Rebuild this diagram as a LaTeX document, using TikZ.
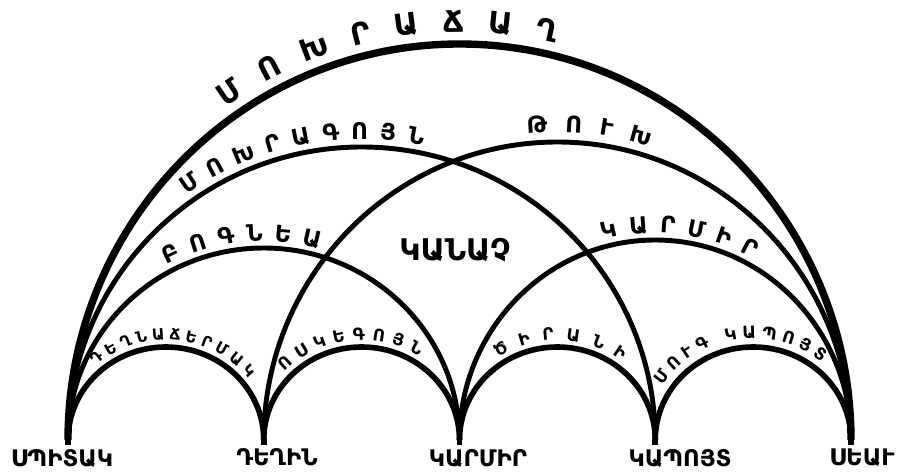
\documentclass[tikz,border=0pt]{standalone}
\usepackage{fontspec}
\setmainfont{DejaVu Sans}
\usetikzlibrary{calc,decorations.text}

\newcommand\bigfnt{\bfseries\fontsize{17}{19}\selectfont}
\newcommand\midfnt{\bfseries\fontsize{13}{15}\selectfont}
\newcommand\smallfnt{\bfseries\fontsize{9.5}{11}\selectfont}
\newcommand\tinyfnt{\bfseries\fontsize{8.8}{10}\selectfont}

\begin{document}
\begin{tikzpicture}[x=0.2mm, y=0.2mm,
    arco/.style={line width=2.8pt},
    nome/.style={font=\midfnt, inner sep=0pt},
    etichetta/.style 2 args={decorate, decoration={text along path, text align={fit to path}, text={|#1|#2}}}]
    \useasboundingbox (0,-31) rectangle (906,440);

    % Colori di base
    \coordinate (spitak) at (68,0);
    \coordinate (deghin) at (263.75,0);
    \coordinate (karmir) at (459.5,0);
    \coordinate (kapuyt) at (655.25,0);
    \coordinate (seav) at (851,0);

    \node[nome] (spitak-nome) at (62,-18) {ՍՊԻՏԱԿ};
    \node[nome] (deghin-nome) at (277,-17) {ԴԵՂԻՆ};
    \node[nome] (karmir-nome) at (478,-18) {ԿԱՐՄԻՐ};
    \node[nome] (kapuyt-nome) at (680,-18) {ԿԱՊՈՅՏ};
    \node[nome] (seav-nome) at (862,-18) {ՍԵԱՒ};

    % Gambi
    \foreach \p in {spitak,deghin,karmir,kapuyt,seav}
        \draw[line width=3.4pt] (\p) -- ++(0,-5);

    % Archi piccoli
    \draw[arco, line width=3.2pt] (spitak) arc[start angle=180, end angle=0, x radius=97.875, y radius=93];
    \draw[arco, line width=3.2pt] (deghin) arc[start angle=180, end angle=0, x radius=97.875, y radius=93];
    \draw[arco, line width=3.2pt] (karmir) arc[start angle=180, end angle=0, x radius=97.875, y radius=93];
    \draw[arco, line width=3.2pt] (kapuyt) arc[start angle=180, end angle=0, x radius=97.875, y radius=93];

    % Archi medi
    \draw[arco] (spitak) arc[start angle=180, end angle=0, x radius=195.75, y radius=192];
    \draw[arco] (karmir) arc[start angle=180, end angle=0, x radius=195.75, y radius=200];

    % Archi grandi
    \draw[arco] (spitak) arc[start angle=180, end angle=0, x radius=293.625, y radius=293];
    \draw[arco] (deghin) arc[start angle=180, end angle=0, x radius=293.625, y radius=298];
    \draw[arco, line width=4.2pt] (spitak) arc[start angle=180, end angle=0, x radius=391.5, y radius=396];

    % Nomi sugli archi
    \path[etichetta={\bigfnt}{ՄՈԽՐԱՃԱՂ}] (karmir) ++(125.5:403.5 and 408)
        arc[start angle=125.5, end angle=76.3, x radius=403.5, y radius=408];
    \path[etichetta={\midfnt}{ՄՈԽՐԱԳՈՅՆ}] ($(deghin)!.5!(karmir)$) ++(125.4:301.6 and 301)
        arc[start angle=125.4, end angle=78.3, x radius=301.6, y radius=301];
    \path[etichetta={\midfnt}{ԹՈՒԽ}] ($(karmir)!.5!(kapuyt)$) ++(95.7:303.6 and 308)
        arc[start angle=95.7, end angle=72.3, x radius=303.6, y radius=308];
    \path[etichetta={\midfnt}{ԲՈԳՆԵԱ}] (deghin) ++(118.5:202.75 and 199)
        arc[start angle=118.5, end angle=73.9, x radius=202.75, y radius=199];
    \path[etichetta={\midfnt}{ԿԱՐՄԻՐ}] (kapuyt) ++(105:202.75 and 207)
        arc[start angle=105, end angle=61.2, x radius=202.75, y radius=207];
    \path[etichetta={\tinyfnt}{ԴԵՂՆԱՃԵՐՄԱԿ}] ($(spitak)!.5!(deghin)$) ++(132:105 and 100)
        arc[start angle=132, end angle=38, x radius=105, y radius=100];
    \path[etichetta={\smallfnt}{ՈՍԿԵԳՈՅՆ}] ($(deghin)!.5!(karmir)$) ++(137:105 and 100)
        arc[start angle=137, end angle=57, x radius=105, y radius=100];
    \path[etichetta={\smallfnt}{ԾԻՐԱՆԻ}] ($(karmir)!.5!(kapuyt)$) ++(124.5:105 and 100)
        arc[start angle=124.5, end angle=52, x radius=105, y radius=100];
    \path[etichetta={\smallfnt}{ՄՈՒԳ ԿԱՊՈՅՏ}] ($(kapuyt)!.5!(seav)$) ++(148:107 and 102)
        arc[start angle=148, end angle=50, x radius=107, y radius=102];

    \node[font=\bigfnt, inner sep=0pt] (kanach) at (455,190) {ԿԱՆԱՉ};
\end{tikzpicture}
\end{document}
